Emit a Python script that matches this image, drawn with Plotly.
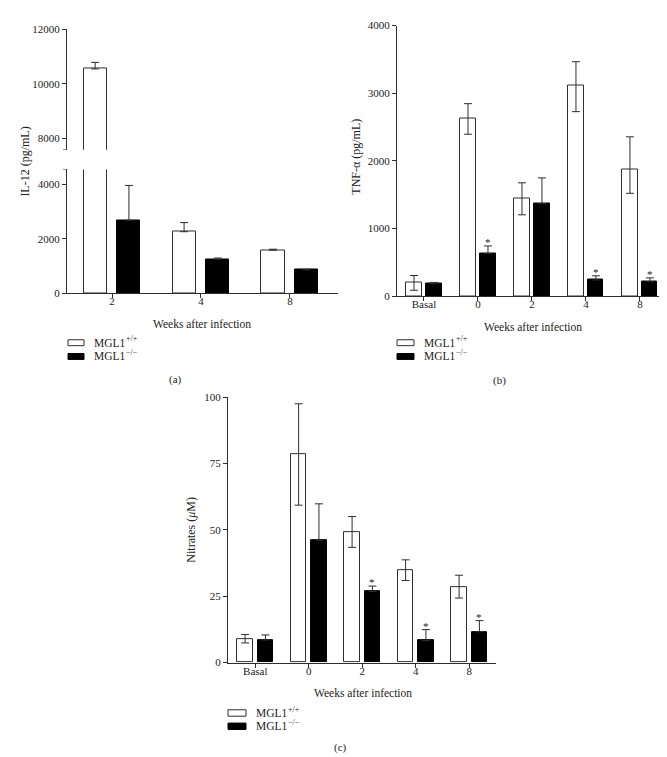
import plotly.graph_objects as go

# ---- data ----
# (a) IL-12
weeks_a = ["2", "4", "8"]
il12_wt = [10550, 2260, 1580]
il12_wt_err = [240, 335, 37]
il12_ko = [2680, 1245, 857]
il12_ko_err = [1280, 48, 25]
il12_ticks_low = [0, 2000, 4000]
il12_ticks_high = [8000, 10000, 12000]

# (b) TNF-alpha
groups_b = ["Basal", "0", "2", "4", "8"]
tnf_wt = [195, 2630, 1450, 3115, 1870]
tnf_wt_err_up = [110, 215, 225, 350, 485]
tnf_wt_err_down = [108, 237, 248, 388, 350]
tnf_ko = [185, 632, 1368, 239, 215]
tnf_ko_err = [18, 110, 380, 62, 55]
tnf_sig = [False, True, False, True, True]
tnf_ticks = [0, 1000, 2000, 3000, 4000]

# (c) Nitrates
groups_c = ["Basal", "0", "2", "4", "8"]
no_wt = [9.0, 78.4, 49.2, 34.8, 28.6]
no_wt_err = [1.6, 19.1, 5.8, 3.9, 4.3]
no_ko = [8.5, 46.1, 26.8, 8.3, 11.6]
no_ko_err = [1.9, 13.7, 2.0, 4.1, 4.2]
no_sig = [False, False, True, True, True]
no_ticks = [0, 25, 50, 75, 100]

legend_names = [("MGL1", "+/+"), ("MGL1", "−/−")]

W, H = 667, 757
FONT = "Liberation Serif"
EDGE = "#2e2e2e"
TXT = "#222"


def px(x):
    return x / W


def py(y):
    return 1 - y / H


fig = go.Figure()


def add_pair(wt, ko, wt_up, wt_down, ko_up, xa, ya, off, bw):
    pos = list(range(len(wt)))
    err_style = dict(type="data", symmetric=False, color=EDGE, thickness=1, width=4)
    fig.add_trace(go.Bar(
        x=[p - off for p in pos], y=wt, width=bw,
        marker=dict(color="white", line=dict(color=EDGE, width=1)),
        error_y=dict(array=wt_up, arrayminus=wt_down, **err_style),
        xaxis=xa, yaxis=ya, showlegend=False, hoverinfo="skip"))
    # lower half of the knockout error bar is hidden inside the black bar
    fig.add_trace(go.Bar(
        x=[p + off for p in pos], y=ko, width=bw,
        marker=dict(color="black", line=dict(color="black", width=1)),
        error_y=dict(array=ko_up, arrayminus=[0] * len(ko), **err_style),
        xaxis=xa, yaxis=ya, showlegend=False, hoverinfo="skip"))


# (a) broken axis: lower part and upper part
zeros3 = [0] * 3
add_pair(il12_wt, il12_ko, il12_wt_err, zeros3, il12_ko_err, "x", "y", 0.19, 0.26)
add_pair(il12_wt, il12_ko, il12_wt_err, zeros3, il12_ko_err, "x2", "y2", 0.19, 0.26)
# (b)
add_pair(tnf_wt, tnf_ko, tnf_wt_err_up, tnf_wt_err_down, tnf_ko_err, "x3", "y3", 0.185, 0.28)
# (c)
add_pair(no_wt, no_ko, no_wt_err, no_wt_err, no_ko_err, "x4", "y4", 0.19, 0.29)

axis_common = dict(showline=True, linecolor=EDGE, linewidth=1, ticks="outside", ticklen=4,
                   tickcolor=EDGE, tickwidth=1, showgrid=False, zeroline=False,
                   tickfont=dict(family=FONT, size=11, color=TXT))
xstyle = dict(ticklabelstandoff=-6, **axis_common)


def yticks(vals):
    return dict(tickvals=vals, ticktext=[str(v) for v in vals])


fig.update_layout(
    width=W, height=H, margin=dict(l=0, r=0, t=0, b=0),
    paper_bgcolor="white", plot_bgcolor="white", bargap=0,
    font=dict(family=FONT, size=11, color=TXT),
    xaxis=dict(domain=[px(59), px(330)], range=[-0.506, 2.54], anchor="y",
               tickvals=[0, 1, 2], ticktext=weeks_a, **xstyle),
    yaxis=dict(domain=[py(283.7), py(158)], range=[0, 4546], anchor="x",
               **yticks(il12_ticks_low), **axis_common),
    xaxis2=dict(domain=[px(59), px(330)], range=[-0.506, 2.54], anchor="y2", visible=False),
    yaxis2=dict(domain=[py(138), py(15.7)], range=[7577, 12000], anchor="x2",
                **yticks(il12_ticks_high), **axis_common),
    xaxis3=dict(domain=[px(389), px(660)], range=[-0.5, 4.52], anchor="y3",
                tickvals=list(range(5)), ticktext=groups_b, **xstyle),
    yaxis3=dict(domain=[py(286.7), py(11.7)], range=[0, 4000], anchor="x3",
                **yticks(tnf_ticks), **axis_common),
    xaxis4=dict(domain=[px(220), px(488)], range=[-0.51, 4.5], anchor="y4",
                tickvals=list(range(5)), ticktext=groups_c, **xstyle),
    yaxis4=dict(domain=[py(659), py(389.3)], range=[0, 100], anchor="x4",
                **yticks(no_ticks), **axis_common),
)

# break marks at the ends of the two y-axis segments in (a)
for yref, yv in [("y", 4546), ("y2", 7577)]:
    fig.add_shape(type="line", xref="x domain", yref=yref, xsizemode="pixel", xanchor=0,
                  x0=-4, x1=0, y0=yv, y1=yv, line=dict(color=EDGE, width=1))

# significance asterisks
for i, s in enumerate(tnf_sig):
    if s:
        fig.add_annotation(x=i + 0.185, y=tnf_ko[i] + tnf_ko_err[i], xref="x3", yref="y3",
                           text="*", showarrow=False, yanchor="bottom", yshift=-4,
                           font=dict(family=FONT, size=11, color=TXT))
for i, s in enumerate(no_sig):
    if s:
        fig.add_annotation(x=i + 0.19, y=no_ko[i] + no_ko_err[i], xref="x4", yref="y4",
                           text="*", showarrow=False, yanchor="bottom", yshift=-4,
                           font=dict(family=FONT, size=11, color=TXT))


def text(x, y, s, size=11, angle=0, xanchor="center"):
    fig.add_annotation(x=px(x), y=py(y), xref="paper", yref="paper", text=s, showarrow=False,
                       textangle=angle, xanchor=xanchor, yanchor="middle",
                       font=dict(family=FONT, size=size, color=TXT))


# axis titles
text(17, 150, "IL-12 (pg/mL)", size=12, angle=-90)
text(348, 145, "TNF-α (pg/mL)", size=12, angle=-90)
text(183, 524, "Nitrates (<i>μ</i>M)", size=12, angle=-90)
text(194, 315, "Weeks after infection", size=11.5)
text(525, 318, "Weeks after infection", size=11.5)
text(355, 690, "Weeks after infection", size=11.5)


# legends (superscript drawn as its own smaller text)
def legend(x0, y0, w, h, gap):
    fills = ["white", "black"]
    for k, (base, sup) in enumerate(legend_names):
        top = y0 + k * gap
        fig.add_shape(type="rect", xref="paper", yref="paper",
                      x0=px(x0), x1=px(x0 + w), y0=py(top + h), y1=py(top),
                      fillcolor=fills[k], line=dict(color=EDGE if k == 0 else "black", width=1))
        tx = x0 + w + 8
        text(tx, top + h / 2, base, size=11.5, xanchor="left")
        text(tx + 32, top + h / 2 - 4, sup, size=8, xanchor="left")


legend(60, 331, 16, 6, 14)
legend(389, 331, 17, 6, 14)
legend(220, 707, 18, 6.5, 13.5)

# panel labels
text(167, 371, "(a)")
text(491, 372, "(b)")
text(332, 745, "(c)")

fig.write_html("out.html")
